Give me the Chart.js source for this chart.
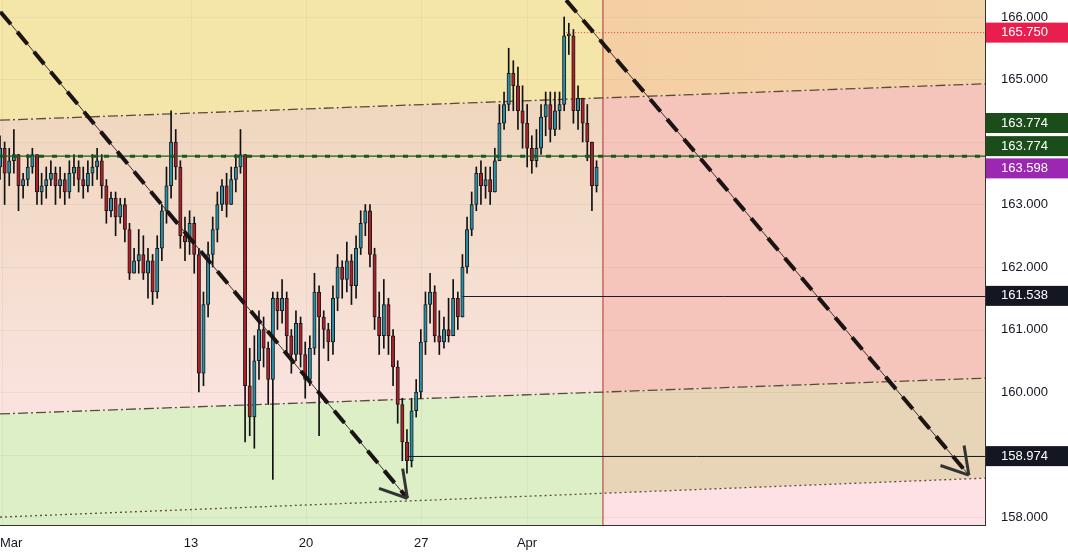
<!DOCTYPE html>
<html><head><meta charset="utf-8">
<script src="https://cdn.jsdelivr.net/npm/chart.js@4"></script>
<style>html,body{margin:0;padding:0;background:#fff}#w{width:1068px;height:553px}</style>
</head><body><div id="w"><canvas id="c"></canvas></div>
<script>
const closes=[163.9,163.5,163.7,163.8,163.3,163.4,163.6,163.8,163.2,163.3,
163.4,163.5,163.3,163.4,163.2,163.5,163.6,163.4,163.3,163.5,
163.6,163.7,163.3,162.9,163.1,162.8,163.0,162.6,161.9,162.1,
162.2,161.9,162.1,161.6,162.3,162.9,163.3,164.0,163.6,162.5,
162.4,162.7,162.2,160.3,161.4,162.2,162.6,163.0,163.3,163.0,
163.4,163.6,163.8,160.1,159.6,160.5,161.0,160.7,160.2,161.5,
161.3,161.5,160.9,160.6,161.1,160.6,160.2,160.7,161.6,161.2,
161.0,160.8,161.5,162.0,161.8,162.1,161.7,162.3,162.7,162.9,
162.2,161.2,160.9,161.4,160.9,160.4,159.8,159.2,158.9,159.7,
160.0,160.8,161.4,161.6,160.9,160.8,161.0,160.9,161.5,161.2,
162.0,162.6,163.0,163.5,163.3,163.4,163.2,163.7,164.3,164.6,
165.1,164.9,164.5,164.3,163.9,163.7,163.9,164.4,164.6,164.2,
164.5,164.6,165.7,165.7,164.5,164.7,164.3,164.0,163.3,163.598];
const highs=[164.1,164.0,163.9,164.2,163.8,163.5,163.8,163.9,163.8,163.5,
163.6,163.7,163.6,163.6,163.5,163.7,163.8,163.7,163.6,163.7,
163.8,163.9,163.8,163.4,163.2,163.2,163.1,163.1,162.7,162.3,
162.6,162.5,162.3,162.2,162.5,163.0,163.6,164.5,164.2,163.7,
162.8,162.9,162.8,162.3,161.6,162.4,162.8,163.2,163.4,163.5,
163.6,163.8,164.2,163.8,160.7,160.9,161.3,161.2,160.8,161.6,
161.6,161.8,161.6,161.0,161.3,161.2,160.8,160.9,161.9,161.7,
161.3,161.1,161.7,162.2,162.1,162.4,162.2,162.5,162.9,163.0,
163.0,162.3,161.6,161.8,161.5,161.0,160.5,159.9,159.4,159.9,
160.2,161.0,161.6,161.9,161.7,161.3,161.2,161.5,161.8,161.6,
162.2,162.8,163.2,163.6,163.7,163.6,163.6,163.9,164.6,164.8,
165.5,165.3,165.2,164.9,164.6,164.1,164.2,164.6,164.8,164.8,
164.8,164.8,166.0,165.9,165.8,164.9,164.7,164.6,164.0,163.7];
const lows=[163.4,163.0,163.3,163.5,162.9,163.1,163.3,163.5,163.0,163.0,
163.1,163.3,163.0,163.1,163.0,163.1,163.3,163.2,163.1,163.2,
163.3,163.4,163.1,162.7,162.8,162.5,162.7,162.4,161.8,161.9,
161.9,161.8,161.5,161.4,161.5,162.1,162.7,163.1,163.4,162.3,
162.1,162.2,161.9,160.0,160.1,161.2,162.0,162.4,162.9,162.8,
163.0,163.2,163.5,159.2,159.3,159.1,160.2,160.4,159.8,158.6,
161.0,161.1,160.6,160.3,160.5,160.4,159.9,160.1,160.6,159.3,
160.7,160.5,160.6,161.3,161.5,161.6,161.4,161.5,162.2,162.5,
162.0,161.0,160.6,160.7,160.6,160.1,159.5,158.9,158.7,158.8,
159.6,159.9,160.6,161.1,160.8,160.6,160.7,160.8,160.9,161.0,
161.2,161.9,162.5,162.9,163.0,163.1,163.0,163.2,163.7,164.2,
164.5,164.5,164.2,163.9,163.6,163.5,163.6,163.8,164.1,164.0,
164.1,164.2,164.5,165.4,164.3,164.2,164.0,163.7,162.9,163.2];
const firstOpen=163.6;
const totalSlots=214;
const dateTicks={0:'Mar',41:'13',66:'20',91:'27',114:'Apr'};
const yTicks=[158,159,160,161,162,163,164,165,166];
const channelTop=[0,164.35,213,164.93];
const channelMid=[0,159.65,213,160.22];
const channelBot=[0,158.0,213,158.62];
const trend1=[-4,166.4,88,158.3];
const trend2=[122.5,166.27,210,158.67];
const levelGreen=163.774, levelRed=165.75, levelLast=163.598;
const levelA=[100,161.538], levelB=[88,158.974];
const cutIndex=130.5;

const labels=[];for(let i=0;i<totalSlots;i++)labels.push(dateTicks[i]||'');
const opens=closes.map((c,i)=>i?closes[i-1]:firstOpen);
const wick=closes.map((c,i)=>[lows[i],highs[i]]);
const body=closes.map((c,i)=>{let o=opens[i];if(Math.abs(o-c)<0.02)c=o+0.03;return [o,c];});
const bodyCol=closes.map((c,i)=>c>=opens[i]?'#2790a8':'#b0202a');

const bg={id:'bg',beforeDatasetsDraw(ch){
 const {ctx,chartArea:a,scales:{x,y}}=ch;
 const X=i=>a.left+(i+0.5)*(a.width/totalSlots);
 const L=(l,px)=>{const i=(px-a.left)/(a.width/totalSlots)-0.5;return y.getPixelForValue(l[1]+(l[3]-l[1])*(i-l[0])/(l[2]-l[0]));};
 const cx=X(cutIndex);
 ctx.save();
 const band=(x0,x1,fTop,fBot,col)=>{ctx.beginPath();ctx.moveTo(x0,fTop(x0));ctx.lineTo(x1,fTop(x1));ctx.lineTo(x1,fBot(x1));ctx.lineTo(x0,fBot(x0));ctx.closePath();ctx.fillStyle=col;ctx.fill();};
 const top=()=>a.top,bot=()=>a.bottom;
 const tT=p=>L(channelTop,p),tM=p=>L(channelMid,p),tB=p=>L(channelBot,p);
 band(a.left,cx,top,tT,'#f3e6a8');
 let g=ctx.createLinearGradient(0,a.top+100,0,a.top+400);g.addColorStop(0,'#efd6bd');g.addColorStop(1,'#fae3de');
 band(a.left,cx,tT,tM,g);
 band(a.left,cx,tM,tB,'#ddefc6');
 band(a.left,cx,tB,bot,'#ddefc6');
 let g2=ctx.createLinearGradient(cx,0,a.right,0);g2.addColorStop(0,'#f5cfa4');g2.addColorStop(1,'#f3d3a8');
 band(cx,a.right,top,tT,g2);
 band(cx,a.right,tT,tM,'#f5c5bb');
 band(cx,a.right,tM,tB,'#e8d4b6');
 band(cx,a.right,tB,bot,'#fde1e5');
 ctx.strokeStyle='rgba(120,120,120,0.08)';ctx.lineWidth=1;
 yTicks.forEach(v=>{const py=Math.round(y.getPixelForValue(v))+.5;ctx.beginPath();ctx.moveTo(a.left,py);ctx.lineTo(a.right,py);ctx.stroke();});
 Object.keys(dateTicks).forEach(k=>{const px=Math.round(X(+k))+.5;ctx.beginPath();ctx.moveTo(px,a.top);ctx.lineTo(px,a.bottom);ctx.stroke();});
 ctx.strokeStyle='#5a4a3a';ctx.lineWidth=1.3;ctx.setLineDash([10,3,2,3]);
 [channelTop,channelMid].forEach(l=>{ctx.beginPath();ctx.moveTo(a.left,L(l,a.left));ctx.lineTo(a.right,L(l,a.right));ctx.stroke();});
 ctx.setLineDash([2,3]);ctx.beginPath();ctx.moveTo(a.left,L(channelBot,a.left));ctx.lineTo(a.right,L(channelBot,a.right));ctx.stroke();
 ctx.setLineDash([]);
 ctx.strokeStyle='#b03030';ctx.lineWidth=1;ctx.beginPath();ctx.moveTo(cx,a.top);ctx.lineTo(cx,a.bottom);ctx.stroke();
 ctx.restore();
},afterDatasetsDraw(ch){
 const {ctx,chartArea:a,scales:{x,y}}=ch;
 const X=i=>a.left+(i+0.5)*(a.width/totalSlots);
 ctx.save();ctx.beginPath();ctx.rect(a.left,a.top,a.width,a.height);ctx.clip();
 ctx.strokeStyle='#1c1c2a';ctx.lineWidth=1;
 [levelA,levelB].forEach(l=>{const py=Math.round(y.getPixelForValue(l[1]))+.5;ctx.beginPath();ctx.moveTo(X(l[0]),py);ctx.lineTo(a.right,py);ctx.stroke();});
 ctx.strokeStyle='#e53935';ctx.setLineDash([1,2]);let py=y.getPixelForValue(levelRed);ctx.beginPath();ctx.moveTo(X(122.5),py);ctx.lineTo(a.right,py);ctx.stroke();
 ctx.strokeStyle='#1e5a1e';ctx.lineWidth=3;ctx.setLineDash([5,8]);py=y.getPixelForValue(levelGreen);ctx.beginPath();ctx.moveTo(a.left,py);ctx.lineTo(a.right,py);ctx.stroke();
 ctx.lineWidth=1.2;ctx.setLineDash([]);ctx.beginPath();ctx.moveTo(a.left,py);ctx.lineTo(a.right,py);ctx.stroke();
 [trend1,trend2].forEach(t=>{const x0=X(t[0]),y0=y.getPixelForValue(t[1]),x1=X(t[2]),y1=y.getPixelForValue(t[3]);
  ctx.strokeStyle='#3a3030';ctx.lineWidth=1;ctx.beginPath();ctx.moveTo(x0,y0);ctx.lineTo(x1,y1);ctx.stroke();
  ctx.strokeStyle='#1a1414';ctx.lineWidth=4;ctx.setLineDash([16,10]);ctx.beginPath();ctx.moveTo(x0,y0);ctx.lineTo(x1,y1);ctx.stroke();ctx.setLineDash([]);
  const ang=Math.atan2(y1-y0,x1-x0);ctx.lineWidth=3;ctx.strokeStyle='#333';
  [ang+2.6,ang-2.6].forEach(b=>{ctx.beginPath();ctx.moveTo(x1,y1);ctx.lineTo(x1+30*Math.cos(b),y1+30*Math.sin(b));ctx.stroke();});
 });
 ctx.restore();
 ctx.save();ctx.font='13px "Liberation Sans", Arial';ctx.textBaseline='middle';
 ctx.fillStyle='#131722';
 yTicks.forEach(v=>{ctx.fillText(v.toFixed(3),a.right+16,y.getPixelForValue(v));});
 ctx.textAlign='left';
 Object.keys(dateTicks).forEach(k=>{const px=X(+k);const t=dateTicks[k];const w=ctx.measureText(t).width;ctx.fillText(t,k==0?a.left:px-w/2,a.bottom+18);});
 const tag=(v,txt,col)=>{const py=y.getPixelForValue(v);ctx.fillStyle=col;ctx.fillRect(a.right+1,py-10,83,20);ctx.fillStyle='#fff';ctx.fillText(txt,a.right+16,py);};
 tag(levelRed,'165.750','#e91e4f');
 tag(levelGreen+0.53,'163.774','#1b4d1b');
 tag(levelGreen+0.16,'163.774','#1b4d1b');
 tag(levelLast-0.02,'163.598','#9c27b0');
 tag(levelA[1],'161.538','#131722');
 tag(levelB[1],'158.974','#131722');
 ctx.restore();
}};

new Chart(document.getElementById('c'),{
 type:'bar',
 data:{labels,datasets:[
  {data:wick,backgroundColor:'#111',barThickness:1,grouped:false,order:2},
  {data:body,backgroundColor:bodyCol,borderColor:'#1a1a1a',borderWidth:1,borderSkipped:false,barThickness:3.4,grouped:false,order:1}
 ]},
 plugins:[bg],
 options:{responsive:true,maintainAspectRatio:false,animation:false,
  layout:{padding:0},
  plugins:{legend:{display:false},tooltip:{enabled:false}},
  scales:{
   x:{offset:false,grid:{display:false},border:{color:'#333'},
      ticks:{display:false},
      afterFit:s=>{s.height=28;}},
   y:{position:'right',min:157.872,max:166.272,grid:{display:false},border:{color:'#333'},
      ticks:{display:false},
      afterFit:s=>{s.width=83;}}
  }}
});
</script></body></html>
